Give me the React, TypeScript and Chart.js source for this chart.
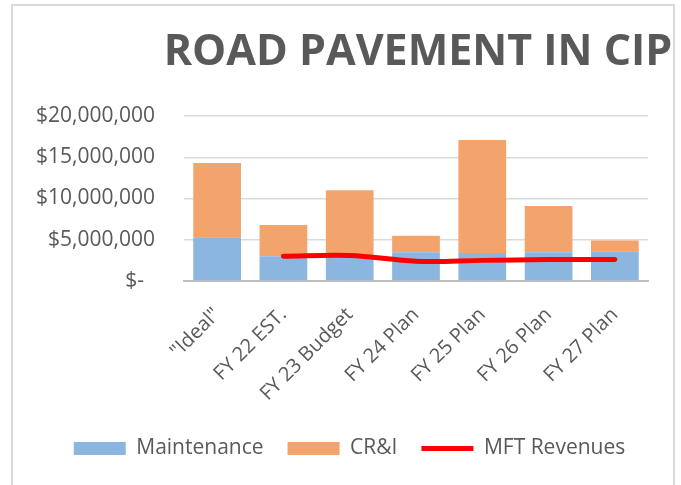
import React, { useEffect, useRef } from 'react';
import { Chart, registerables } from 'chart.js';

Chart.register(...registerables);

const chartTitle = 'ROAD PAVEMENT IN CIP';
const categories = ['"Ideal"', 'FY 22 EST.', 'FY 23 Budget', 'FY 24 Plan', 'FY 25 Plan', 'FY 26 Plan', 'FY 27 Plan'];
const maintenance = [5300000, 3000000, 2900000, 3500000, 3400000, 3500000, 3600000];
const crAndI = [9000000, 3800000, 8100000, 2000000, 13700000, 5600000, 1300000];
const mftRevenues = [null, 3000000, 3100000, 2400000, 2500000, 2600000, 2600000];
const yTickValues = [0, 5000000, 10000000, 15000000, 20000000];
const yTickLabels = ['$-  ', '$5,000,000', '$10,000,000', '$15,000,000', '$20,000,000'];

const FONT = '"Open Sans", "Noto Sans", sans-serif';
const TEXT = '#595959';

const titlePlugin = {
  id: 'excelTitle',
  afterDraw(chart: any) {
    const { ctx, chartArea } = chart;
    ctx.save();
    ctx.font = `bold 43px ${FONT}`;
    ctx.fillStyle = TEXT;
    ctx.textAlign = 'center';
    ctx.textBaseline = 'alphabetic';
    ctx.fillText(chartTitle, (chartArea.left + chartArea.right) / 2 + 2, 65);
    ctx.restore();
  },
};

export default function App() {
  const canvasRef = useRef<HTMLCanvasElement | null>(null);

  useEffect(() => {
    if (!canvasRef.current) return;
    const chart = new Chart(canvasRef.current, {
      type: 'bar',
      data: {
        labels: categories,
        datasets: [
          {
            type: 'bar',
            label: 'Maintenance',
            data: maintenance,
            backgroundColor: '#8BB6E0',
            borderWidth: 0,
            pointStyle: 'rect',
            order: 1,
            stack: 'bars',
          },
          {
            type: 'bar',
            label: 'CR&I',
            data: crAndI,
            backgroundColor: '#F2A46C',
            borderWidth: 0,
            pointStyle: 'rect',
            order: 2,
            stack: 'bars',
          },
          {
            type: 'line',
            label: 'MFT Revenues',
            data: mftRevenues,
            borderColor: '#FF0000',
            backgroundColor: '#FF0000',
            borderWidth: 5,
            pointBorderWidth: 5,
            pointBorderColor: '#FF0000',
            pointRadius: 0,
            pointStyle: 'line',
            borderCapStyle: 'round',
            borderJoinStyle: 'round',
            tension: 0.35,
            order: 0,
            stack: 'mft',
          } as any,
        ],
      },
      options: {
        animation: false,
        responsive: false,
        layout: { padding: { top: 116, left: 35, right: 17, bottom: 16 } },
        plugins: {
          title: { display: false },
          tooltip: { enabled: false },
          legend: {
            position: 'bottom',
            labels: {
              usePointStyle: true,
              pointStyleWidth: 52,
              boxHeight: 13,
              padding: 24,
              color: TEXT,
              font: { family: FONT, size: 21 },
              sort: (a: any, b: any) => a.datasetIndex - b.datasetIndex,
            },
          },
        },
        scales: {
          x: {
            stacked: true,
            barPercentage: 0.66,
            categoryPercentage: 1,
            grid: { display: false, drawTicks: false },
            border: { display: true, color: '#BFBFBF', width: 2 },
            ticks: {
              autoSkip: false,
              maxRotation: 45,
              minRotation: 45,
              padding: 22,
              labelOffset: 0,
              color: TEXT,
              font: { family: FONT, size: 20 },
            },
            afterFit: (scale: any) => {
              scale.height = 133;
            },
          } as any,
          y: {
            stacked: true,
            min: 0,
            max: 20000000,
            grid: {
              drawTicks: false,
              lineWidth: 1.5,
              color: (c: any) => (c.tick && c.tick.value === 0 ? '#BFBFBF' : '#D9D9D9'),
            },
            border: { display: false },
            ticks: {
              stepSize: 5000000,
              padding: 29,
              color: TEXT,
              font: { family: FONT, size: 21 },
              callback: (v: any) => {
                const i = yTickValues.indexOf(Number(v));
                return i >= 0 ? yTickLabels[i] : '';
              },
            },
            afterFit: (scale: any) => {
              scale.width = 149;
            },
          } as any,
          legendBalance: {
            type: 'linear',
            position: 'right',
            display: true,
            grid: { display: false, drawTicks: false },
            border: { display: false },
            ticks: { display: false },
            afterFit: (scale: any) => {
              scale.width = 16;
            },
          } as any,
        },
      },
      plugins: [titlePlugin],
    });
    return () => chart.destroy();
  }, []);

  return (
    <div style={{ position: 'absolute', left: 0, top: 0, width: 681, height: 485, overflow: 'hidden', background: '#fff' }}>
      <div
        style={{
          position: 'absolute',
          left: 11,
          top: 4,
          width: 664,
          height: 520,
          border: '2px solid #D9D9D9',
          boxSizing: 'border-box',
        }}
      />
      <canvas ref={canvasRef} width={681} height={485} style={{ position: 'absolute', left: 0, top: 0 }} />
    </div>
  );
}
